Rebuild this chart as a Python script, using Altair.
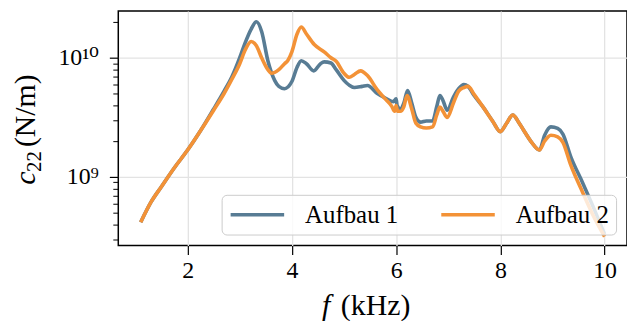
import altair as alt
import pandas as pd

# ---- data ----
f_a1 = [1.10, 1.30, 1.50, 1.75, 2.00, 2.25, 2.50, 2.70, 2.85, 3.00, 3.10, 3.22, 3.32, 3.42, 3.54,
        3.67, 3.75, 3.86, 4.00, 4.10, 4.18, 4.28, 4.42, 4.55, 4.62, 4.75, 4.85, 5.00, 5.10, 5.20,
        5.35, 5.45, 5.64, 5.80, 5.95, 6.00, 6.02, 6.08, 6.15, 6.22, 6.30, 6.38, 6.47, 6.58, 6.70,
        6.78, 6.84, 6.90, 6.98, 7.10, 7.20, 7.30, 7.38, 7.50, 7.67, 7.85, 8.00, 8.12, 8.24, 8.35,
        8.45, 8.60, 8.75, 8.85, 8.97, 9.10, 9.20, 9.35, 9.58, 9.80, 10.00]
c_a1 = [0.417e9, 0.617e9, 0.832e9, 1.20e9, 1.68e9, 2.45e9, 3.72e9, 5.25e9, 6.92e9, 10.0e9, 13.2e9,
        17.4e9, 20.0e9, 16.6e9, 9.44e9, 6.46e9, 5.75e9, 5.50e9, 6.31e9, 8.32e9, 9.44e9, 8.91e9,
        7.76e9, 8.91e9, 9.23e9, 9.02e9, 7.94e9, 6.46e9, 5.89e9, 5.62e9, 5.75e9, 5.85e9, 5.01e9,
        4.57e9, 4.27e9, 4.53e9, 3.98e9, 3.72e9, 4.17e9, 5.31e9, 4.17e9, 3.16e9, 2.88e9, 2.95e9,
        2.95e9, 3.89e9, 4.82e9, 4.37e9, 3.63e9, 4.68e9, 5.50e9, 5.96e9, 5.75e9, 4.79e9, 3.85e9,
        2.95e9, 2.40e9, 2.82e9, 3.31e9, 2.88e9, 2.45e9, 1.95e9, 1.68e9, 2.24e9, 2.63e9, 2.55e9,
        2.29e9, 1.48e9, 0.891e9, 0.537e9, 0.331e9]

f_a2 = [1.10, 1.30, 1.50, 1.75, 2.00, 2.25, 2.50, 2.70, 2.85, 3.00, 3.10, 3.22, 3.32, 3.42, 3.54,
        3.61, 3.75, 3.86, 3.92, 4.00, 4.10, 4.18, 4.28, 4.43, 4.62, 4.75, 4.85, 5.00, 5.10, 5.20,
        5.32, 5.45, 5.64, 5.80, 5.92, 5.97, 6.00, 6.03, 6.08, 6.15, 6.21, 6.30, 6.38, 6.47, 6.58,
        6.70, 6.78, 6.84, 6.90, 6.98, 7.10, 7.20, 7.30, 7.38, 7.50, 7.67, 7.85, 8.00, 8.12, 8.24,
        8.35, 8.45, 8.60, 8.75, 8.85, 8.97, 9.10, 9.20, 9.35, 9.58, 9.80, 10.00]
c_a2 = [0.417e9, 0.617e9, 0.832e9, 1.20e9, 1.68e9, 2.45e9, 3.63e9, 5.01e9, 6.61e9, 8.91e9, 11.5e9,
        13.7e9, 12.6e9, 10.0e9, 7.94e9, 7.41e9, 7.94e9, 8.91e9, 9.44e9, 11.2e9, 15.8e9, 18.1e9,
        15.8e9, 12.9e9, 11.2e9, 10.0e9, 9.33e9, 7.41e9, 6.85e9, 7.24e9, 7.76e9, 7.08e9, 5.37e9,
        4.47e9, 3.89e9, 3.55e9, 3.98e9, 3.55e9, 3.55e9, 3.89e9, 4.82e9, 3.72e9, 2.82e9, 2.63e9,
        2.57e9, 2.63e9, 3.31e9, 3.85e9, 3.55e9, 3.16e9, 4.17e9, 5.25e9, 5.62e9, 5.75e9, 4.90e9,
        3.85e9, 2.95e9, 2.40e9, 2.82e9, 3.31e9, 2.88e9, 2.45e9, 1.95e9, 1.68e9, 2.00e9, 2.24e9,
        2.17e9, 1.95e9, 1.26e9, 0.741e9, 0.457e9, 0.316e9]

series_names = ["Aufbau 1", "Aufbau 2"]
series_colors = ["#587c94", "#f39237"]
x_ticks = [2, 4, 6, 8, 10]
y_major = [1e9, 1e10]
y_minor = [2e8, 3e8, 4e8, 5e8, 6e8, 7e8, 8e8, 9e8,
           2e9, 3e9, 4e9, 5e9, 6e9, 7e9, 8e9, 9e9, 2e10]

df1 = pd.DataFrame({"f": f_a1, "c": c_a1, "series": series_names[0]})
df2 = pd.DataFrame({"f": f_a2, "c": c_a2, "series": series_names[1]})

FONT = "'Liberation Serif', 'Times New Roman', Tinos, 'DejaVu Serif', serif"
W, H = 512, 236

xscale = alt.Scale(domain=[0.67, 10.43], nice=False, zero=False)
yscale = alt.Scale(type="log", domain=[2.66e8, 2.466e10], nice=False)
cscale = alt.Scale(domain=series_names, range=series_colors)

xaxis = alt.Axis(values=x_ticks, format="d", labelFont=FONT, labelFontSize=24, labelColor="black",
                 tickSize=9, tickWidth=1.2, tickColor="black", labelPadding=4,
                 grid=True, gridColor="#e3e3e3", gridWidth=1.3, domain=False, title=None)
yaxis_major = alt.Axis(values=y_major, orient="left",
                       labelExpr="datum.value >= 5e9 ? '10\u00b9\u2070' : '10\u2079'",
                       labelFont=FONT, labelFontSize=24, labelColor="black", labelPadding=11,
                       tickSize=9, tickWidth=1.2, tickColor="black",
                       grid=True, gridColor="#e3e3e3", gridWidth=1.3, domain=False, title=None)
yaxis_minor = alt.Axis(values=y_minor, orient="left", labels=False,
                       tickSize=5.5, tickWidth=1.0, tickColor="black",
                       grid=False, domain=False, title=None)

legend = alt.Legend(title=None, orient="none", legendX=104, legendY=185, direction="horizontal",
                    symbolType="stroke", symbolSize=2900, symbolStrokeWidth=3.5,
                    labelFont=FONT, labelFontSize=25, labelColor="black", labelOffset=19,
                    columnPadding=41, padding=7, clipHeight=26,
                    fillColor="rgba(255,255,255,0.8)", strokeColor="#cccccc", cornerRadius=5)

line1 = alt.Chart(df1).mark_line(strokeWidth=3.6, interpolate="monotone").encode(
    x=alt.X("f:Q", scale=xscale, axis=xaxis),
    y=alt.Y("c:Q", scale=yscale, axis=yaxis_major),
    color=alt.Color("series:N", scale=cscale, legend=legend),
)
line2 = alt.Chart(df2).mark_line(strokeWidth=3.6, interpolate="monotone").encode(
    x=alt.X("f:Q", scale=xscale, axis=xaxis),
    y=alt.Y("c:Q", scale=yscale, axis=yaxis_minor),
    color=alt.Color("series:N", scale=cscale, legend=legend),
)

def label(text, x, y, size, style="normal", angle=0, baseline="alphabetic"):
    return alt.Chart(pd.DataFrame({"t": [text]})).mark_text(
        font=FONT, fontSize=size, fontStyle=style, align="left", baseline=baseline,
        angle=angle, color="black"
    ).encode(text="t:N", x=alt.value(x), y=alt.value(y))

xt1 = label("f", 205, 306, 30, "italic")
xt2 = label("(kHz)", 224, 306, 30)
yt1 = label("c", -84, 175, 30, "italic", 270)
yt2 = label("22", -78, 162, 21, "normal", 270)
yt3 = label("(N/m)", -84, 137, 30, "normal", 270)

chart = alt.layer(line1, line2, xt1, xt2, yt1, yt2, yt3).resolve_axis(y="independent").properties(
    width=W, height=H,
    autosize=alt.AutoSizeParams(type="none"),
    padding={"left": 111, "top": 2, "right": 0, "bottom": 75},
).configure_view(stroke="black", strokeWidth=1.5)

chart.save("out.html", embed_options={"renderer": "svg", "actions": False})
